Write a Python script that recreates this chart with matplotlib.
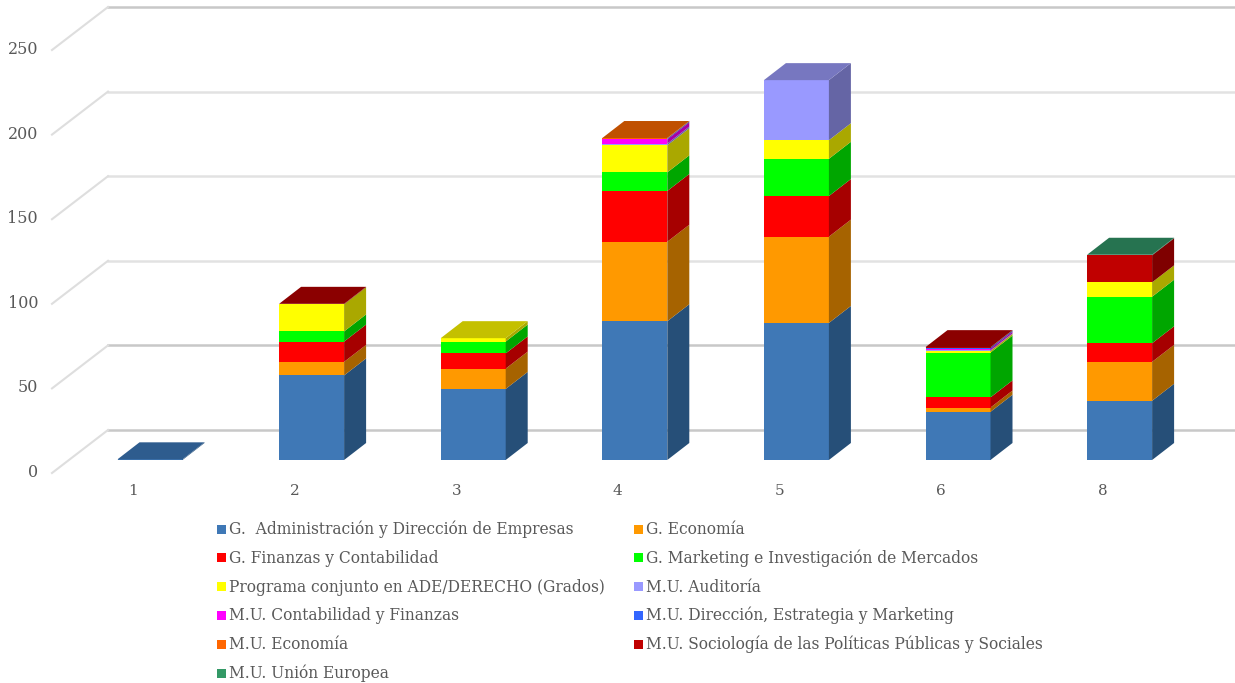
import matplotlib
matplotlib.use('Agg')
import matplotlib.pyplot as plt
from matplotlib.patches import Rectangle
import numpy as np

categories = ['1', '2', '3', '4', '5', '6', '8']
y_ticks = [0, 50, 100, 150, 200, 250]

series_names = ['G.  Administración y Dirección de Empresas', 'G. Economía',
                'G. Finanzas y Contabilidad', 'G. Marketing e Investigación de Mercados',
                'Programa conjunto en ADE/DERECHO (Grados)', 'M.U. Auditoría',
                'M.U. Contabilidad y Finanzas', 'M.U. Dirección, Estrategia y Marketing',
                'M.U. Economía', 'M.U. Sociología de las Políticas Públicas y Sociales',
                'M.U. Unión Europea']

admin = [0.4, 50, 42, 82, 81, 28.5, 35]
economia = [0, 8, 12, 47, 51, 2.5, 23]
finanzas = [0, 12, 9, 30, 24, 6, 11]
marketing = [0, 6, 7, 11, 22, 26.5, 27.5]
ade_derecho = [0, 16, 2, 16, 11, 1, 8.5]
auditoria = [0, 0, 0, 1, 35.5, 0.3, 0]
contabilidad = [0, 0, 0, 2.5, 0, 1, 0]
direccion = [0, 0, 0, 0.5, 0, 0.6, 0]
mu_economia = [0, 0, 0, 0.3, 0, 0, 0]
sociologia = [0, 0.3, 0, 0, 0, 0.3, 16]
union_europea = [0, 0, 0, 0, 0, 0, 0.3]
values = [admin, economia, finanzas, marketing, ade_derecho, auditoria,
          contabilidad, direccion, mu_economia, sociologia, union_europea]

front = ['#3F78B6', '#FF9900', '#FF0000', '#00FF00', '#FFFF00', '#9999FF',
         '#FF00FF', '#3366FF', '#FF6600', '#C00000', '#339966']
side = ['#264F78', '#A66300', '#A60000', '#00A600', '#AAA800', '#6565A5',
        '#A600A6', '#2244A6', '#A64200', '#7F0000', '#226644']
top = ['#2E5C8E', '#C47800', '#C40000', '#00C400', '#C4C000', '#7777C0',
       '#C400C4', '#2850C4', '#C05000', '#8B0000', '#267350']

px_x = 161.6
px_y = 1.692
x_first = 150
y_zero = 460

fig = plt.figure(figsize=(12.35, 6.83), dpi=100)
ax = fig.add_axes([0, 0, 1, 1])
ax.set_xlim(-x_first / px_x, (1235 - x_first) / px_x)
ax.set_ylim((y_zero - 683) / px_y, y_zero / px_y)
ax.axis('off')

# depth of the fake 3d box and of the bars
wall_dx, wall_dy = 56 / px_x, 43 / px_y
bar_dx, bar_dy = 22 / px_x, 17 / px_y
wall_x = (52 - x_first) / px_x
wall_y = -13 / px_y
width = 65 / px_x
txt = '#595959'

for t in y_ticks:
    c = '#C8C8C8' if t in (0, 50, 250) else '#E2E2E2'
    ax.plot([wall_x + wall_dx, ax.get_xlim()[1]], [t + wall_y + wall_dy] * 2, color=c, lw=1.8, zorder=1)
    ax.plot([wall_x, wall_x + wall_dx], [t + wall_y, t + wall_y + wall_dy], color='#DEDEDE', lw=1.5, zorder=1)
    ax.text((38 - x_first) / px_x, t + wall_y + 0.5 / px_y, str(t), ha='right', va='center',
            family='DejaVu Serif', fontsize=11.5, color=txt)

x = np.arange(len(categories))
for i, cat in enumerate(categories):
    ax.text(x[i] - 17 / px_x, -31 / px_y, cat, ha='center', va='center',
            family='DejaVu Serif', fontsize=11, color=txt)

bottom = np.zeros(len(categories))
last = {}
for s, vals in enumerate(values):
    vals = np.array(vals)
    ax.bar(x, vals, width, bottom=bottom, color=front[s], lw=0, zorder=3)
    for i in x:
        if vals[i] > 0:
            r = x[i] + width / 2
            b, t = bottom[i], bottom[i] + vals[i]
            ax.fill([r, r + bar_dx, r + bar_dx, r], [b, b + bar_dy, t + bar_dy, t],
                    color=side[s], lw=0, zorder=3)
            last[i] = s
    bottom = bottom + vals

# top face takes the colour of the last series present in the stack
for i in x:
    l = x[i] - width / 2
    r = x[i] + width / 2
    t = bottom[i]
    ax.fill([l, r, r + bar_dx, l + bar_dx], [t, t, t + bar_dy, t + bar_dy],
            color=top[last[i]], lw=0, zorder=4)

# legend by hand, fig.legend rows drift between the columns
for s, name in enumerate(series_names):
    col_x = 217 if s % 2 == 0 else 634
    row_y = 529 + 28.8 * (s // 2)
    fig.add_artist(Rectangle((col_x / 1235, 1 - (row_y + 4.5) / 683), 9 / 1235, 9 / 683,
                             color=front[s], lw=0, transform=fig.transFigure))
    fig.text((col_x + 12) / 1235, 1 - (row_y + 5) / 683, name, ha='left', va='baseline',
             family='DejaVu Serif', fontsize=11.2, color=txt)

fig.savefig('out.png', dpi=100)
